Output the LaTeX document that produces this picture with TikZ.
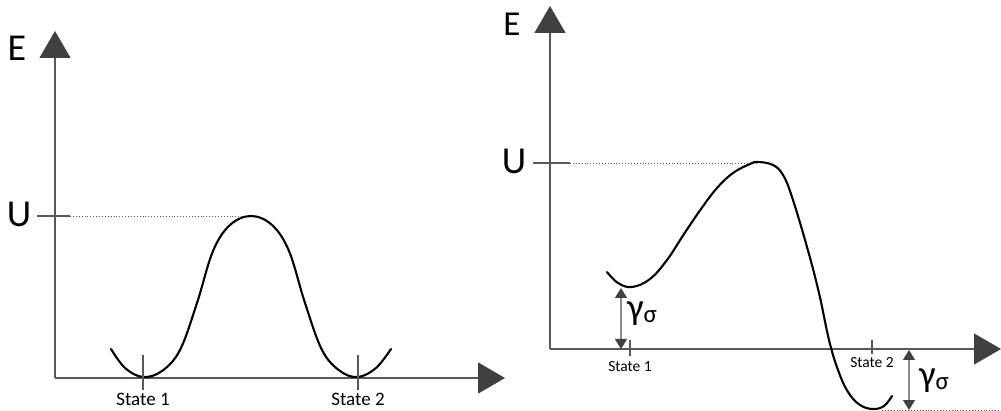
\documentclass[tikz,border=0pt]{standalone}
\usepackage{fontspec}
\setmainfont{Carlito}
\usetikzlibrary{arrows.meta}
\definecolor{axisgray}{HTML}{595959}
\definecolor{headgray}{HTML}{404040}
\definecolor{bargray}{HTML}{8C8C8C}

\begin{document}
\begin{tikzpicture}[x=1pt, y=-1pt,
    axis/.style={axisgray, line width=1.3pt, -{Triangle[length=27pt, width=31pt, color=headgray]}},
    tickline/.style={axisgray, line width=1.1pt},
    level/.style={axisgray, line width=0.9pt, dotted},
    curve/.style={black, line width=2.1pt, line cap=round},
    gap/.style={bargray, line width=1.2pt, {Triangle[length=10pt, width=12pt, color=headgray]}-{Triangle[length=10pt, width=12pt, color=headgray]}},
    biglabel/.style={inner sep=0pt, font=\fontsize{38}{40}\selectfont},
    gammalabel/.style={inner sep=0pt, anchor=west, font=\fontsize{37}{37}\selectfont}]
    \useasboundingbox (0,0) rectangle (1001,411);

    % left: symmetric double well
    \coordinate (O1) at (55,378);
    \coordinate (Etip1) at (55,31);
    \coordinate (Xtip1) at (505,378);
    \coordinate (peak1) at (251,216);
    \draw[axis] (O1) -- (Etip1);
    \draw[axis] (O1) -- (Xtip1);

    \node[biglabel] (E1) at (17,48) {E};
    \node[biglabel] (U1) at (19,214) {U};
    \coordinate (Utick1) at (70,216);
    \draw[tickline] (37,216) -- (Utick1);
    \draw[level] (Utick1) -- (peak1);

    \draw[curve] plot[smooth, tension=0.6] coordinates {
        (111,349) (125,368) (143,377) (162,371) (180,350) (197,303)
        (213,251) (230,225) (251,216) (272,225) (289,251) (305,303)
        (322,350) (340,371) (358,377) (376,368) (391,349)};

    \draw[tickline] (143,355) -- (143,390);
    \draw[tickline] (358,355) -- (358,390);
    \node[font=\fontsize{19}{20}\selectfont, inner sep=0pt] (S11) at (143,399) {State 1};
    \node[font=\fontsize{19}{20}\selectfont, inner sep=0pt] (S12) at (358,399) {State 2};

    % right: tilted well
    \coordinate (O2) at (550,349);
    \coordinate (Etip2) at (550,6);
    \coordinate (Xtip2) at (1001,349);
    \coordinate (peak2) at (758,163);
    \draw[axis] (O2) -- (Etip2);
    \draw[axis] (O2) -- (Xtip2);

    \node[biglabel, font=\fontsize{35}{36}\selectfont] (E2) at (512,24) {E};
    \node[biglabel] (U2) at (514,161) {U};
    \coordinate (Utick2) at (570,163);
    \draw[tickline] (533,163) -- (Utick2);
    \draw[level] (Utick2) -- (peak2);

    \draw[curve] plot[smooth, tension=0.65] coordinates {
        (607,272) (618,283) (632,287) (650,279) (667,260) (684,234)
        (701,209) (717,188) (733,173) (750,164) (758,162) (773,165)
        (783,175) (792,197) (807,247) (819,293) (829,340) (838,370)
        (848,392) (860,405) (873,409) (884,406) (892,396)};

    \draw[tickline] (630,340) -- (630,356);
    \draw[tickline] (872,340) -- (872,354);
    \node[font=\fontsize{15.5}{16}\selectfont, inner sep=0pt] (S21) at (630,367) {State 1};
    \node[font=\fontsize{15.5}{16}\selectfont, inner sep=0pt] (S22) at (872,363) {State 2};

    \coordinate (w1top) at (621,288);
    \coordinate (w1bot) at (621,349);
    \draw[gap] (w1top) -- (w1bot);
    \node[gammalabel] (g1) at (627,314) {γ\raisebox{-3pt}{\fontsize{25}{25}\selectfont σ}};

    \coordinate (w2top) at (909,350);
    \coordinate (w2bot) at (909,410);
    \draw[gap] (w2top) -- (w2bot);
    \node[gammalabel] (g2) at (919,381) {γ\raisebox{-3pt}{\fontsize{25}{25}\selectfont σ}};
    \draw[level] (882,410) -- (1001,410);
\end{tikzpicture}
\end{document}
